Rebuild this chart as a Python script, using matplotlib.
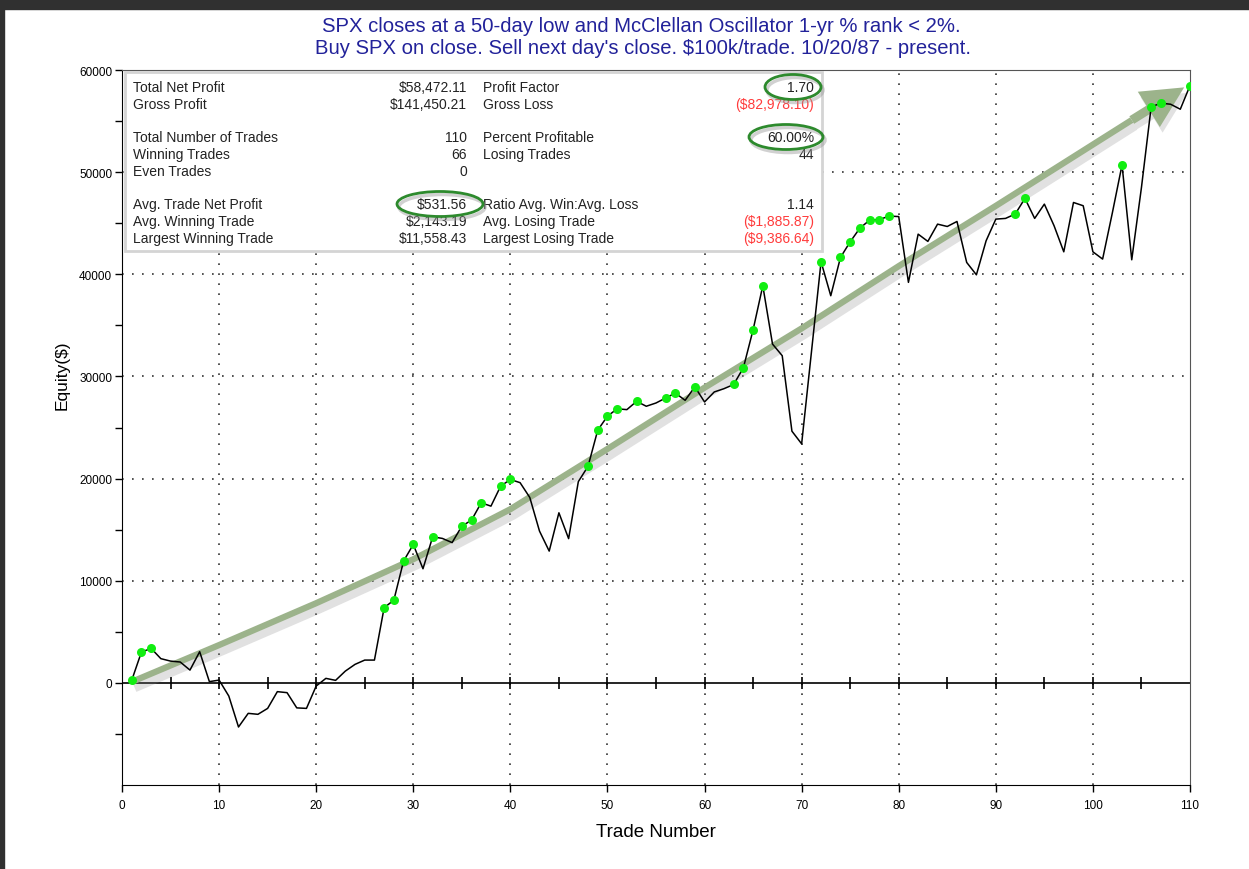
import matplotlib
matplotlib.use('Agg')
import matplotlib.pyplot as plt
import matplotlib.patheffects as pe
from matplotlib.patches import Rectangle, Ellipse, FancyArrowPatch
import numpy as np

plt.rcParams.update({
    'font.family': ['Liberation Sans', 'DejaVu Sans'],
    'font.size': 8,
})

W, H = 1249, 870

# Equity curve, one value per trade (1..110)
trades = np.arange(1, 111)
equity = [245, 3010, 3375, 2370, 2130, 2040, 1250, 3050, 120, 270,
          -1290, -4320, -2985, -3080, -2500, -860, -960, -2450, -2500, -310,
          440, 245, 1150, 1810, 2230, 2230, 7360, 8100, 11920, 13550,
          11170, 14300, 14140, 13730, 15340, 15930, 17630, 17300, 19260, 19910,
          19600, 18150, 14860, 12900, 16650, 14120, 19700, 21200, 24740, 26110,
          26830, 26750, 27560, 27080, 27400, 27890, 28370, 27660, 28980, 27500,
          28480, 28800, 29210, 30850, 34560, 38880, 33170, 32030, 24640, 23400,
          32300, 41230, 37900, 41650, 43180, 44520, 45300, 45350, 45700, 45650,
          39210, 43930, 43220, 44910, 44680, 45170, 41160, 39950, 43280, 45400,
          45470, 45900, 47430, 45470, 46870, 44750, 42200, 47030, 46710, 42200,
          41490, 46000, 50710, 41420, 48500, 56390, 56750, 56650, 56160, 58472]

# trades that made a new equity high (green dots)
high_trades = [1, 2, 3, 27, 28, 29, 30, 32, 35, 36, 37, 39, 40, 48, 49, 50, 51,
               53, 56, 57, 59, 63, 64, 65, 66, 72, 74, 75, 76, 77, 78, 79, 92,
               93, 103, 106, 107, 110]

# hand-drawn trend arrow (approximate path)
arrow_t = [1, 10, 20, 30, 40, 50, 60, 70, 80, 90, 100, 104]
arrow_v = [100, 3700, 7800, 12100, 17000, 22900, 28900, 34700, 40800, 46700, 52700, 55100]
arrow_tip = (109.4, 58300)

title_lines = ["SPX closes at a 50-day low and McClellan Oscillator 1-yr % rank < 2%.",
               "Buy SPX on close. Sell next day's close. $100k/trade. 10/20/87 - present."]

stats_left = [("Total Net Profit", "$58,472.11"), ("Gross Profit", "$141,450.21"),
              None,
              ("Total Number of Trades", "110"), ("Winning Trades", "66"), ("Even Trades", "0"),
              None,
              ("Avg. Trade Net Profit", "$531.56"), ("Avg. Winning Trade", "$2,143.19"),
              ("Largest Winning Trade", "$11,558.43")]
stats_right = [("Profit Factor", "1.70"), ("Gross Loss", "($82,978.10)"),
               None,
               ("Percent Profitable", "60.00%"), ("Losing Trades", "44"), ("", ""),
               None,
               ("Ratio Avg. Win:Avg. Loss", "1.14"), ("Avg. Losing Trade", "($1,885.87)"),
               ("Largest Losing Trade", "($9,386.64)")]


def fx(x):
    return x / W


def fy(y):
    return 1 - y / H


fig = plt.figure(figsize=(W / 100, H / 100), dpi=100)
# dark frame of the screenshot
fig.patches.append(Rectangle((0, fy(10)), 1, 10 / H, transform=fig.transFigure,
                             color='#303030', zorder=0))
fig.patches.append(Rectangle((0, 0), 4 / W, 1, transform=fig.transFigure,
                             color='#303030', zorder=0))

ax = fig.add_axes([fx(122), fy(786), fx(1190) - fx(122), (786 - 71) / H])
ax.set_xlim(0, 110)
ax.set_ylim(-10000, 60000)

ax.set_xticks(np.arange(0, 111, 10))
ax.set_yticks(np.arange(0, 60001, 10000))
ax.set_yticks(np.arange(-5000, 60000, 10000), minor=True)
ax.tick_params(axis='both', which='both', direction='out', length=5, width=1,
               labelsize=8.5, colors='black')
ax.tick_params(axis='x', pad=5)
ax.tick_params(axis='y', pad=2)

for v in range(10, 101, 10):
    ax.axvline(v, color='#333333', lw=1.2, ls=(0, (1, 5)), zorder=1)
for v in range(10000, 50001, 10000):
    ax.axhline(v, color='#333333', lw=1.2, ls=(0, (1, 5)), zorder=1)
ax.axhline(0, color='black', lw=1.2, zorder=2)
ax.plot(np.arange(5, 110, 5), np.zeros(21), ls='none', marker='|', ms=9,
        mew=1.2, color='black', zorder=2)

for side in ['top', 'right']:
    ax.spines[side].set_color('#555555')
for side in ['left', 'bottom']:
    ax.spines[side].set_color('black')

# trend arrow with soft shadow
arrow_col = '#9cb38b'
shadow = [pe.SimpleLineShadow(offset=(2, -4), shadow_color='#888888', alpha=0.25,
                              linewidth=7),
          pe.Normal()]
ax.plot(arrow_t, arrow_v, color=arrow_col, lw=4.5, solid_capstyle='butt',
        zorder=3, path_effects=shadow)
head = FancyArrowPatch((arrow_t[-1], arrow_v[-1]), arrow_tip,
                       arrowstyle='simple,head_length=1.5,head_width=1.5,tail_width=0.32',
                       mutation_scale=20, color=arrow_col, lw=0, zorder=3,
                       shrinkA=0, shrinkB=0,
                       path_effects=[pe.SimplePatchShadow(offset=(2, -4),
                                                          shadow_rgbFace='#888888',
                                                          alpha=0.25),
                                     pe.Normal()])
ax.add_patch(head)

ax.plot(trades, equity, color='black', lw=1.1, zorder=4)
eq = np.array(equity)
hi = np.array(high_trades)
ax.plot(hi, eq[hi - 1], ls='none', marker='o', ms=6.5, color='#11ee11',
        mec='none', zorder=5)

# titles and axis labels
fig.text(fx(641), fy(27), title_lines[0], ha='center', va='center',
         fontsize=14.6, color='#22229a')
fig.text(fx(643), fy(49), title_lines[1], ha='center', va='center',
         fontsize=14.6, color='#22229a')
fig.text(fx(62), fy(375), 'Equity($)', rotation=90, ha='center', va='center',
         fontsize=12.5)
fig.text(fx(656), fy(833), 'Trade Number', ha='center', va='center', fontsize=13.5)

# statistics box
fig.patches.append(Rectangle((fx(125), fy(252)), fx(822) - fx(125), (252 - 73) / H,
                             transform=fig.transFigure, facecolor='white',
                             edgecolor='#d4d4d4', lw=2, zorder=6))
row_y = [88, 105, None, 138, 155, 172, None, 205, 222, 239]
red_vals = {"($82,978.10)", "($1,885.87)", "($9,386.64)"}
fs = 10
for i, y in enumerate(row_y):
    if y is None:
        continue
    lab, val = stats_left[i]
    fig.text(fx(133), fy(y), lab, ha='left', va='center', fontsize=fs,
             color='#222222', zorder=7)
    fig.text(fx(467), fy(y), val, ha='right', va='center', fontsize=fs,
             color='#222222', zorder=7)
    lab, val = stats_right[i]
    fig.text(fx(483), fy(y), lab, ha='left', va='center', fontsize=fs,
             color='#222222', zorder=7)
    fig.text(fx(814), fy(y), val, ha='right', va='center', fontsize=fs,
             color='#ff3b3b' if val in red_vals else '#222222', zorder=7)

# highlight ellipses (shadow ring first, then green ring)
for cx, cy, ew, eh in [(793, 88, 56, 25), (786, 138, 74, 25), (440, 205, 86, 25)]:
    fig.patches.append(Ellipse((fx(cx + 2), fy(cy + 3)), ew / W, eh / H,
                               transform=fig.transFigure, facecolor='none',
                               edgecolor='#999999', lw=2.5, alpha=0.45, zorder=8))
    fig.patches.append(Ellipse((fx(cx), fy(cy)), ew / W, eh / H,
                               transform=fig.transFigure, facecolor='none',
                               edgecolor='#2d8a2d', lw=2, zorder=9))

plt.savefig('out.png', dpi=100)
plt.close()
